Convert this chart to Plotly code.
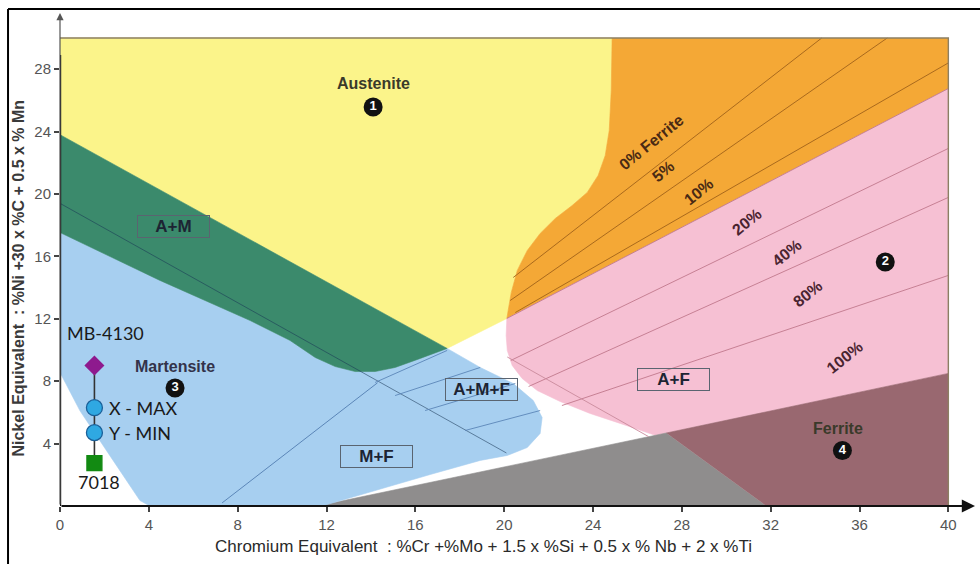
import plotly.graph_objects as go

# ---------------- data (Cr-equivalent, Ni-equivalent) ----------------
x_ticks = [0, 4, 8, 12, 16, 20, 24, 28, 32, 36, 40]
y_ticks = [4, 8, 12, 16, 20, 24, 28]

# phase-field boundaries of the Schaeffler diagram
austenite_ferrite_front = [(24.86, 30.0), (24.82, 26.6), (24.73, 24.07), (24.55, 22.47),
                           (24.23, 21.19), (23.74, 20.1), (23.06, 19.26), (22.3, 18.43),
                           (21.62, 17.47), (21.04, 16.38), (20.59, 15.1), (20.32, 13.69),
                           (20.18, 12.53), (20.12, 12.02)]
af_upper_edge = [(20.12, 12.02), (40.0, 26.76)]
am_upper_edge = [(0.0, 23.8), (17.43, 10.1)]
martensite_top = [(0.0, 17.53), (4.5, 14.46), (8.56, 11.89), (10.36, 10.61), (11.49, 9.52),
                  (12.39, 8.94), (13.29, 8.62), (14.19, 8.62), (15.09, 8.88), (16.22, 9.46),
                  (17.43, 10.1)]
martensite_right = [(17.43, 10.1), (18.92, 8.88), (20.41, 7.85), (21.31, 6.76), (21.71, 5.67),
                    (21.62, 4.65), (21.04, 3.75), (20.14, 3.24), (18.92, 2.92), (16.67, 2.02),
                    (11.8, 0.0)]
martensite_left = [(4.05, 0.0), (3.6, 0.35), (2.39, 2.92), (0.9, 6.1), (0.0, 8.56)]
af_left_edge = [(20.12, 12.02), (20.09, 10.93), (20.14, 9.97), (20.36, 9.01), (20.81, 8.17),
                (21.49, 7.4), (22.52, 6.7), (23.87, 5.93), (25.23, 5.29), (26.8, 4.53)]
ferrite_edge = [(11.6, 0.0), (40.0, 8.5)]
ferrite_split = [(27.3, 4.68), (31.8, 0.0)]

# iso-ferrite lines (start, end)
ferrite_pct = ["0% Ferrite", "5%", "10%", "20%", "40%", "80%", "100%"]
ferrite_lines = [
    [(20.41, 14.65), (34.3, 30.0)],
    [(20.27, 13.17), (37.25, 30.0)],
    [(20.5, 12.4), (40.0, 28.4)],
    [(20.12, 12.02), (40.0, 26.76)],
    [(20.3, 9.33), (40.0, 22.92)],
    [(21.1, 7.66), (40.0, 19.78)],
    [(22.6, 6.44), (40.0, 14.78)],
]
ferrite_label_pos = [(26.62, 23.27), (27.16, 21.41), (28.78, 20.13), (30.95, 18.21),
                     (32.75, 16.22), (33.69, 13.59), (35.32, 9.55)]
af_cross_line = [(20.14, 9.55), (26.5, 4.45)]

# lines crossing the martensite field
m_mf_line = [(7.3, 0.2), (14.3, 7.9)]
am_amf_line = [(0.0, 19.4), (20.1, 3.4)]
amf_lines = [
    [(14.19, 7.92), (17.43, 9.97)],
    [(15.09, 7.08), (18.92, 8.88)],
    [(16.44, 6.12), (20.5, 7.85)],
    [(18.24, 4.84), (21.62, 6.12)],
]

# weld dilution points
point_names = ["MB-4130", "X - MAX", "Y - MIN", "7018"]
point_cr = [1.55, 1.55, 1.55, 1.55]
point_ni = [9.0, 6.3, 4.7, 2.75]

# field labels
field_boxes = ["A+M", "A+M+F", "M+F", "A+F"]
field_box_pos = [(5.11, 17.92), (18.96, 7.47), (14.26, 3.17), (27.63, 8.08)]
phase_names = ["Austenite", "Martensite", "Ferrite"]
phase_name_pos = [(14.1, 27.05), (5.18, 8.97), (35.05, 4.94)]
badge_nums = ["1", "2", "3", "4"]
badge_pos = [(14.1, 25.58), (37.16, 15.64), (5.18, 7.56), (35.23, 3.56)]

# ---------------- figure ----------------
fig = go.Figure()


def area(points, color):
    fig.add_trace(go.Scatter(x=[p[0] for p in points], y=[p[1] for p in points],
                             mode="lines", fill="toself", fillcolor=color,
                             line=dict(width=0.6, color=color), hoverinfo="skip",
                             showlegend=False))


def seg(points, color, width=1.0):
    fig.add_trace(go.Scatter(x=[p[0] for p in points], y=[p[1] for p in points],
                             mode="lines", line=dict(width=width, color=color),
                             hoverinfo="skip", showlegend=False))


yellow = [(0.0, 30.0)] + austenite_ferrite_front + [am_upper_edge[1], am_upper_edge[0]]
orange = austenite_ferrite_front + [af_upper_edge[1], (40.0, 30.0)]
pink = af_left_edge + [ferrite_edge[1], af_upper_edge[1]]
grey = [ferrite_edge[0], ferrite_split[0], ferrite_split[1]]
mauve = [ferrite_split[0], ferrite_edge[1], (40.0, 0.0), ferrite_split[1]]
blue = martensite_top + martensite_right[1:] + martensite_left
green = am_upper_edge + martensite_top[::-1][1:]

area(yellow, "#fbf48a")
area(orange, "#f4a836")
area(pink, "#f6c0d3")
area(grey, "#8f8d8d")
area(mauve, "#996870")
area(blue, "#a7cff0")
area(green, "#3b8a6c")

# iso-ferrite lines
for i, ln in enumerate(ferrite_lines):
    seg(ln, "#a0621a" if i < 3 else "#c1788c", 0.9)
seg(af_cross_line, "#c98a9c", 0.9)

seg(am_amf_line, "rgba(25,55,85,0.55)", 1.0)
seg(m_mf_line, "#5b86b8", 1.0)
for ln in amf_lines:
    seg(ln, "#5b86b8", 0.9)

# frame lines of the diagram
seg([(0.0, 30.0), (40.0, 30.0), (40.0, 0.0)], "#8c7f63", 1.4)

# dilution line with its points
fig.add_trace(go.Scatter(x=point_cr, y=point_ni, mode="lines",
                         line=dict(color="#333333", width=1.6), hoverinfo="skip",
                         showlegend=False))
fig.add_trace(go.Scatter(x=point_cr, y=point_ni, mode="markers",
                         marker=dict(symbol=["diamond", "circle", "circle", "square"],
                                     size=[14, 16, 16, 15], opacity=1,
                                     color=["#8e1a8e", "#2fa8e2", "#2fa8e2", "#128a12"],
                                     line=dict(color=["#8e1a8e", "#1a5f98", "#1a5f98", "#128a12"],
                                               width=1.3)),
                         hoverinfo="skip", showlegend=False))

# numbered badges
fig.add_trace(go.Scatter(x=[p[0] for p in badge_pos], y=[p[1] for p in badge_pos],
                         mode="markers+text", text=["<b>%s</b>" % n for n in badge_nums],
                         textposition="middle center",
                         textfont=dict(color="white", size=13, family="Liberation Sans"),
                         marker=dict(size=19, color="#111111", opacity=1),
                         hoverinfo="skip", showlegend=False))

ann = []
for name, (x, y) in zip(phase_names, phase_name_pos):
    ann.append(dict(x=x, y=y, text="<b>%s</b>" % name, showarrow=False,
                    font=dict(size=16, color="#33334a" if name == "Martensite" else "#3a3a2a",
                              family="Liberation Sans")))
for name, (x, y) in zip(field_boxes, field_box_pos):
    ann.append(dict(x=x, y=y, text="<b>%s</b>" % name, showarrow=False,
                    font=dict(size=17, color="#1d2433", family="Liberation Sans"),
                    bordercolor="#5a6470", borderwidth=1, borderpad=1,
                    width=69, height=19))
for i, (lab, (x, y)) in enumerate(zip(ferrite_pct, ferrite_label_pos)):
    ann.append(dict(x=x, y=y, text="<b>%s</b>" % lab, showarrow=False, textangle=-39,
                    font=dict(size=16, color="#4a2a14" if i < 3 else "#4a2430",
                              family="Liberation Sans")))

# dilution point labels
label_font = dict(size=18, color="#1a1a1a", family="Lato")
ann.append(dict(x=2.03, y=11.09, text=point_names[0], showarrow=False, font=label_font))
ann.append(dict(x=2.12, y=point_ni[1], text=point_names[1], showarrow=False,
                xanchor="left", font=label_font))
ann.append(dict(x=2.12, y=point_ni[2], text=point_names[2], showarrow=False,
                xanchor="left", font=label_font))
ann.append(dict(x=1.76, y=1.54, text=point_names[3], showarrow=False, font=label_font))

# axis arrows
ann.append(dict(x=41.2, y=0, ax=0, ay=0, axref="x", ayref="y", xref="x", yref="y",
                text="", showarrow=True, arrowhead=2, arrowsize=1.2, arrowwidth=2.2,
                arrowcolor="#111111"))
ann.append(dict(x=0, y=31.6, ax=0, ay=0, axref="x", ayref="y", xref="x", yref="y",
                text="", showarrow=True, arrowhead=2, arrowsize=1.2, arrowwidth=1.2,
                arrowcolor="#555555"))

# axis titles
ann.append(dict(xref="paper", yref="paper", x=-0.0443, y=0.4625, xanchor="center",
                yanchor="middle", textangle=-90,
                text="<b>Nickel Equivalent  : %Ni +30 x %C + 0.5 x % Mn</b>",
                showarrow=False, font=dict(size=16, color="#3a3a3a", family="Liberation Sans")))
ann.append(dict(xref="paper", yref="paper", x=0.463, y=-0.083, xanchor="center",
                yanchor="middle",
                text="Chromium Equivalent  : %Cr +%Mo + 1.5 x %Si + 0.5 x % Nb + 2 x %Ti",
                showarrow=False, font=dict(size=17, color="#2a2a2a", family="Liberation Sans")))

shapes = [
    # thick left axis
    dict(type="line", xref="x", yref="y", x0=0, y0=0, x1=0, y1=28.9,
         line=dict(color="#111111", width=2.4)),
    # outer frame
    dict(type="line", xref="paper", yref="paper", x0=-0.0568, y0=1.008, x1=1.01, y1=1.008,
         line=dict(color="#000000", width=2)),
    dict(type="line", xref="paper", yref="paper", x0=-0.0568, y0=1.008, x1=-0.0568, y1=-0.12,
         line=dict(color="#000000", width=2)),
]

tick_font = dict(size=15, color="#555555", family="Liberation Sans Narrow, Liberation Sans")
fig.update_layout(
    width=980, height=564,
    margin=dict(l=60, r=5, t=13, b=58),
    paper_bgcolor="white", plot_bgcolor="white",
    annotations=ann, shapes=shapes,
    xaxis=dict(range=[0, 41.2], tickvals=x_ticks, ticktext=[str(v) for v in x_ticks],
               ticks="outside", ticklen=5, tickcolor="#444444", tickwidth=1.5,
               showgrid=False, zeroline=False, showline=False, tickfont=tick_font),
    yaxis=dict(range=[0, 31.6], tickvals=y_ticks, ticktext=[str(v) for v in y_ticks],
               ticks="outside", ticklen=5, tickcolor="#444444", tickwidth=1.5,
               showgrid=False, zeroline=False, showline=False, tickfont=tick_font),
)

fig.write_html("out.html")
